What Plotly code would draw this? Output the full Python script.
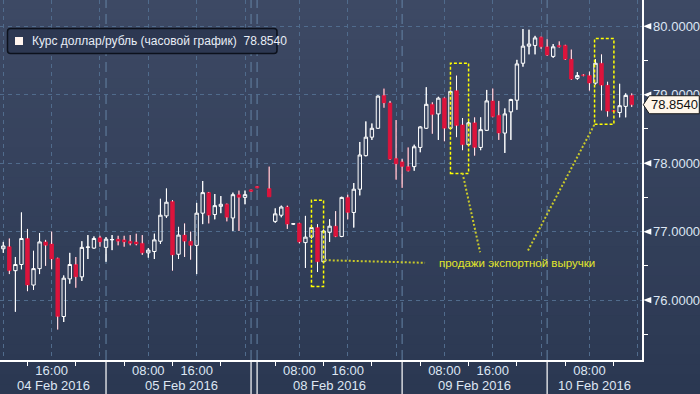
import plotly.graph_objects as go

# ---------------- data ----------------
bar_idx = [8, 9, 10, 11, 12, 13, 14, 15, 16, 17, 18, 19, 20, 21, 22, 23, 24, 25, 26, 27,
           28, 29, 30, 31, 32, 33, 34, 35, 36, 37, 38, 39, 40, 41, 42, 43, 44, 45, 46, 47,
           48, 49, 50, 52, 53, 54, 55, 56, 57, 58, 59, 60, 61, 62, 63, 64, 65, 66, 67, 68,
           69, 70, 71, 72, 73, 74, 75, 76, 77, 78, 79, 80, 81, 82, 83, 84, 85, 86, 87, 88,
           89, 90, 91, 92, 93, 94, 95, 96, 97, 98, 99, 100, 101, 102, 103, 104, 105, 106,
           107, 108, 109, 110, 111, 112]
open_ = [76.75, 76.78, 76.43, 76.52, 76.90, 76.22, 76.46, 76.85, 76.82, 76.61, 75.76, 76.31, 76.52, 76.34, 76.77, 76.76, 76.91, 76.77, 76.88, 76.89,
         76.88, 76.86, 76.85, 76.83, 76.69, 76.71, 76.86, 77.23, 77.44, 76.67, 76.95, 76.86, 76.80, 77.27, 77.57, 77.25, 77.37, 77.40, 77.20, 77.54,
         77.50, 77.61, 77.66, 77.63, 77.15, 77.24, 77.36, 77.11, 77.12, 76.84, 76.92, 77.06, 76.56, 76.99, 77.08, 76.93, 77.50, 77.28, 77.62, 78.11,
         78.38, 78.51, 78.99, 78.88, 78.07, 78.02, 77.95, 77.95, 78.23, 78.51, 78.86, 78.72, 78.95, 78.51, 79.06, 78.56, 78.27, 78.59, 78.23, 78.48,
         78.91, 78.70, 78.44, 78.75, 78.92, 79.46, 79.71, 79.72, 79.84, 79.70, 79.56, 79.72, 79.72, 79.52, 79.24, 79.29, 79.28, 79.17,
         79.46, 79.14, 78.77, 78.74, 78.83, 78.99]
high = [76.85, 76.90, 76.63, 77.28, 77.04, 76.72, 76.98, 76.88, 77.00, 76.62, 76.36, 76.69, 76.63, 76.86, 76.95, 76.93, 76.94, 76.92, 76.95, 76.94,
        76.94, 76.95, 76.97, 76.95, 76.76, 76.97, 77.48, 77.63, 77.46, 77.07, 77.12, 77.00, 77.42, 77.74, 77.58, 77.55, 77.52, 77.41, 77.57, 77.60,
        77.60, 77.615, 77.665, 77.95, 77.34, 77.38, 77.38, 77.12, 77.13, 77.23, 77.10, 77.11, 77.03, 77.18, 77.30, 77.51, 77.54, 77.71, 78.31, 78.61,
        78.58, 78.99, 79.09, 78.91, 78.63, 78.06, 78.23, 78.27, 78.54, 79.11, 78.89, 78.97, 78.96, 79.06, 79.28, 78.66, 78.63, 78.67, 78.67, 79.07,
        79.09, 78.91, 78.80, 78.94, 79.51, 79.96, 79.95, 79.86, 79.85, 79.81, 79.74, 79.78, 79.73, 79.66, 79.33, 79.30, 79.34, 79.52,
        79.59, 79.19, 78.775, 79.16, 79.02, 79.02]
low = [76.69, 76.38, 75.83, 76.45, 76.13, 76.15, 76.38, 76.50, 76.45, 75.57, 75.68, 76.24, 76.18, 76.28, 76.60, 76.75, 76.78, 76.56, 76.73, 76.80,
       76.78, 76.80, 76.80, 76.66, 76.62, 76.60, 76.82, 77.20, 76.43, 76.60, 76.63, 76.59, 76.38, 77.11, 77.12, 77.18, 77.27, 77.15, 77.01, 77.01,
       77.40, 77.585, 77.635, 77.51, 77.13, 77.21, 77.04, 77.10, 76.83, 76.47, 76.90, 76.41, 76.55, 76.85, 76.92, 76.92, 77.18, 77.06, 77.53, 78.10,
       78.34, 78.50, 78.81, 78.05, 77.76, 77.64, 77.88, 77.89, 78.16, 78.50, 78.43, 78.34, 78.32, 78.50, 78.38, 78.19, 78.25, 78.11, 78.19, 78.47,
       78.67, 78.34, 78.15, 78.34, 78.78, 79.41, 79.59, 79.59, 79.67, 79.57, 79.54, 79.69, 79.51, 79.22, 79.22, 79.27, 79.06, 79.15,
       78.77, 78.68, 78.755, 78.67, 78.67, 78.82]
close = [76.79, 76.43, 76.52, 76.90, 76.22, 76.46, 76.85, 76.80, 76.60, 75.76, 76.32, 76.52, 76.34, 76.77, 76.775, 76.90, 76.85, 76.89, 76.885, 76.86,
         76.85, 76.83, 76.82, 76.69, 76.73, 76.88, 77.24, 77.43, 76.66, 76.95, 76.86, 76.80, 77.27, 77.57, 77.24, 77.38, 77.40, 77.21, 77.54, 77.50,
         77.54, 77.59, 77.64, 77.51, 77.26, 77.36, 77.11, 77.115, 76.85, 76.92, 77.06, 76.56, 77.01, 77.08, 76.93, 77.50, 77.28, 77.62, 78.12, 78.38,
         78.51, 78.98, 78.88, 78.06, 77.99, 77.95, 77.89, 78.24, 78.53, 78.86, 78.71, 78.95, 78.51, 79.05, 78.55, 78.27, 78.59, 78.23, 78.49, 78.91,
         78.68, 78.44, 78.72, 78.93, 79.45, 79.71, 79.74, 79.83, 79.70, 79.58, 79.70, 79.70, 79.52, 79.23, 79.28, 79.28, 79.17, 79.46,
         79.14, 78.76, 78.76, 78.84, 78.99, 78.854]

last_price = 78.8540
series_name = "Курс доллар/рубль (часовой график)"

grid_idx = [8, 16, 24, 32, 40, 48, 57, 65, 73, 81, 89, 97, 105, 113]
grid_text = ["", "16:00", "", "08:00", "16:00", "", "08:00", "16:00", "", "08:00", "16:00", "", "08:00", ""]
minor_idx = [12, 20, 28, 36, 44, 53, 61, 69, 77, 85, 93, 101, 109]
day_sep = [25, 49, 50, 74, 98]
day_labels = ["04 Feb 2016", "05 Feb 2016", "08 Feb 2016", "09 Feb 2016", "10 Feb 2016"]
y_ticks = [76, 77, 78, 79, 80]
y_minor = [75.5, 76.5, 77.5, 78.5, 79.5]

x_range = [7.454, 113.70]
y_range = [75.125, 80.384]

# annotation geometry (data units)
boxes = [(59, 61, 76.20, 77.46), (82, 85, 77.85, 79.46), (105.85, 109.05, 78.57, 79.82)]
callouts = [((61.2, 76.583), (77.8, 76.545)),
            ((84.0, 77.855), (86.9, 76.70)),
            ((105.8, 78.56), (94.8, 76.72))]
note_text = "продажи экспортной выручки"
note_pos = (93.0, 76.545)

# ---------------- style ----------------
RED = "#dc143c"
WHITE = "#ffffff"
TXT = "#dde6f3"
GRID = "#506b8c"
SEP = "#6583a5"
FONT = "Liberation Sans"
W, H = 700, 394
ML, MR, MT, MB = 0, 58, 0, 34
PW, PH = W - ML - MR, H - MT - MB

fig = go.Figure()

fig.add_trace(go.Candlestick(
    x=bar_idx, open=open_, high=high, low=low, close=close,
    increasing=dict(line=dict(color=WHITE, width=1), fillcolor="rgba(0,0,0,0)"),
    decreasing=dict(line=dict(color=RED, width=1), fillcolor=RED),
    whiskerwidth=0, showlegend=False, hoverinfo="skip",
))

# white wicks over all candles
wx, wy = [], []
for k, o, h, l, c in zip(bar_idx, open_, high, low, close):
    top, bot = max(o, c), min(o, c)
    if h > top:
        wx += [k, k, None]; wy += [h, top, None]
    if l < bot:
        wx += [k, k, None]; wy += [bot, l, None]
fig.add_trace(go.Scatter(x=wx, y=wy, mode="lines", line=dict(color=WHITE, width=1),
                         showlegend=False, hoverinfo="skip"))

shapes = []
# background gradient
top_rgb, bot_rgb = (61, 73, 100), (43, 56, 82)
nb = 40
for i in range(nb):
    t = i / (nb - 1)
    col = tuple(round(top_rgb[j] + (bot_rgb[j] - top_rgb[j]) * t) for j in range(3))
    py0 = H * i / nb
    py1 = H * (i + 1) / nb + 1
    shapes.append(dict(type="rect", xref="paper", yref="paper", layer="below",
                       x0=-0.01, x1=W / PW + 0.01,
                       y0=(PH - py0) / PH, y1=(PH - py1) / PH,
                       line=dict(width=0), fillcolor="rgb(%d,%d,%d)" % col))

# day separators: long dash in plot, solid white below axis
for s in day_sep:
    shapes.append(dict(type="line", xref="x", yref="paper", x0=s, x1=s, y0=0, y1=1,
                       line=dict(color=SEP, width=1, dash="10px,6px"), layer="below"))
    shapes.append(dict(type="line", xref="x", yref="paper", x0=s, x1=s, y0=0, y1=-MB / PH,
                       line=dict(color=WHITE, width=1.2)))

# right axis triangles at major ticks
tw = 8 / PW
th = 3.2 / 68.45
for v in y_ticks:
    shapes.append(dict(type="path", xref="paper", yref="y",
                       path="M 1.002,%f L %f,%f L %f,%f Z" % (v, 1.002 + tw, v + th, 1.002 + tw, v - th),
                       fillcolor=WHITE, line=dict(width=0)))

# last price label (pentagon)
ph = 9 / 68.45
x_tip, x_l, x_r = 1.002, 1.002 + 6 / PW, 1.002 + 56 / PW
shapes.append(dict(type="path", xref="paper", yref="y",
                   path="M %f,%f L %f,%f L %f,%f L %f,%f L %f,%f Z" % (
                       x_tip, last_price, x_l, last_price + ph, x_r, last_price + ph,
                       x_r, last_price - ph, x_l, last_price - ph),
                   fillcolor="#fff6ea", line=dict(color="#1a1a1a", width=1)))

# legend box
lx0, lx1 = 7.5 / PW, 277 / PW
ly0, ly1 = (PH - 28.5) / PH, (PH - 53.5) / PH
rx, ry = 3 / PW, 3 / PH
shapes.append(dict(type="path", xref="paper", yref="paper",
                   path=("M %f,%f L %f,%f Q %f,%f %f,%f L %f,%f Q %f,%f %f,%f L %f,%f Q %f,%f %f,%f "
                         "L %f,%f Q %f,%f %f,%f Z") % (
                       lx0 + rx, ly0, lx1 - rx, ly0, lx1, ly0, lx1, ly0 - ry,
                       lx1, ly1 + ry, lx1, ly1, lx1 - rx, ly1,
                       lx0 + rx, ly1, lx0, ly1, lx0, ly1 + ry,
                       lx0, ly0 - ry, lx0, ly0, lx0 + rx, ly0),
                   fillcolor="#2d3852", line=dict(color="#0c111c", width=1.5)))
shapes.append(dict(type="rect", xref="paper", yref="paper",
                   x0=15 / PW, x1=23 / PW, y0=(PH - 37) / PH, y1=(PH - 45) / PH,
                   fillcolor="#fff4ee", line=dict(width=0)))

# yellow dashed boxes and callout lines
for x0, x1, y0, y1 in boxes:
    shapes.append(dict(type="rect", xref="x", yref="y", x0=x0, x1=x1, y0=y0, y1=y1,
                       line=dict(color="#ffff00", width=1.5, dash="3px,2px")))
for (ax, ay), (bx, by) in callouts:
    shapes.append(dict(type="line", xref="x", yref="y", x0=ax, y0=ay, x1=bx, y1=by,
                       line=dict(color="#c9c92a", width=2, dash="2px,2px")))

annotations = []
annotations.append(dict(x=30 / PW, y=(PH - 41) / PH, xref="paper", yref="paper",
                        text=series_name + "\u00a0\u00a0" + "%.4f" % last_price,
                        showarrow=False, xanchor="left", yanchor="middle",
                        font=dict(family=FONT, size=12, color="#e8edf6")))
annotations.append(dict(x=1.002 + 31 / PW, y=last_price, xref="paper", yref="y",
                        text="%.4f" % last_price, showarrow=False, xanchor="center",
                        yanchor="middle", font=dict(family=FONT, size=13, color="#111111")))
annotations.append(dict(x=note_pos[0], y=note_pos[1], xref="x", yref="y", text=note_text,
                        showarrow=False, xanchor="center", yanchor="middle",
                        font=dict(family=FONT, size=11.5, color="#e2e62a")))
# date labels centred between separators
bounds = [x_range[0]] + [25, 50, 74, 98] + [x_range[1]]
for i, lab in enumerate(day_labels):
    cx = (bounds[i] + bounds[i + 1]) / 2
    annotations.append(dict(x=cx, y=-(385 - PH) / PH, xref="x", yref="paper", text=lab,
                            showarrow=False, xanchor="center", yanchor="middle",
                            font=dict(family=FONT, size=13, color=TXT)))

fig.update_layout(
    width=W, height=H, margin=dict(l=ML, r=MR, t=MT, b=MB, autoexpand=False),
    paper_bgcolor="rgb(43,56,82)", plot_bgcolor="rgba(0,0,0,0)",
    boxgap=0.2, showlegend=False, shapes=shapes, annotations=annotations,
    font=dict(family=FONT, size=13, color=TXT),
    xaxis=dict(range=x_range, tickmode="array", tickvals=grid_idx, ticktext=grid_text,
               showgrid=True, gridcolor=GRID, griddash="4px,4px", gridwidth=1,
               showline=True, linecolor=WHITE, linewidth=1.5, zeroline=False,
               ticks="", ticklabelstandoff=-2,
               tickfont=dict(family=FONT, size=13, color=TXT),
               rangeslider=dict(visible=False), fixedrange=True,
               minor=dict(tickmode="array", tickvals=minor_idx, ticks="outside",
                          ticklen=4, tickcolor=WHITE, tickwidth=1, showgrid=False)),
    yaxis=dict(range=y_range, side="right", tickmode="array", tickvals=y_ticks,
               ticktext=["%.4f" % v for v in y_ticks],
               showgrid=True, gridcolor=GRID, griddash="4px,4px", gridwidth=1,
               showline=True, linecolor=WHITE, linewidth=1.5, zeroline=False,
               ticks="outside", ticklen=7, tickcolor="rgba(0,0,0,0)",
               tickfont=dict(family=FONT, size=13, color=TXT), fixedrange=True,
               minor=dict(tickmode="array", tickvals=y_minor, ticks="outside",
                          ticklen=4, tickcolor=WHITE, tickwidth=1, showgrid=False)),
)

fig.write_html("out.html", config={"displayModeBar": False, "staticPlot": True},
               post_script="document.body.style.margin='0px';document.body.style.overflow='hidden';")
